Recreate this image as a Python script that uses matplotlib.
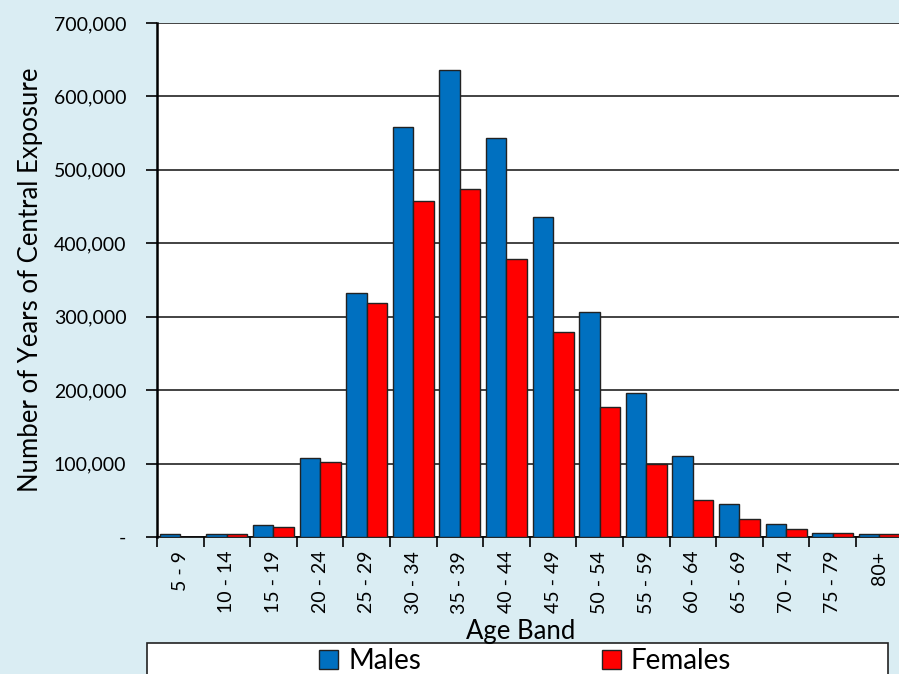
import matplotlib.pyplot as plt
from matplotlib.patches import Rectangle
from matplotlib.ticker import FuncFormatter
import numpy as np

plt.rcParams['font.family'] = ['Lato', 'DejaVu Sans']

# Data
age_bands = ['5 - 9', '10 - 14', '15 - 19', '20 - 24', '25 - 29', '30 - 34',
             '35 - 39', '40 - 44', '45 - 49', '50 - 54', '55 - 59', '60 - 64',
             '65 - 69', '70 - 74', '75 - 79', '80+']
males = [4500, 3500, 16000, 108000, 332000, 558000, 636000, 543000,
         436000, 307000, 196000, 110000, 45500, 17700, 6000, 4000]
females = [500, 3500, 14000, 102000, 319000, 458000, 474000, 379000,
           279000, 177000, 99000, 51000, 24500, 11400, 6000, 4000]

bg = '#DAEDF3'
blue = '#0070C0'
red = '#FF0000'

fig = plt.figure(figsize=(8.99, 6.74), dpi=100, facecolor=bg)
ax = fig.add_axes([157 / 899, 1 - 537 / 674, 1 - 157 / 899 + 0.004, (537 - 23) / 674])
ax.set_facecolor('white')

x = np.arange(len(age_bands))
w = 0.44
ax.bar(x - w / 2, males, width=w, color=blue, edgecolor='#222222', linewidth=1.0,
       label='Males', zorder=3)
ax.bar(x + w / 2, females, width=w, color=red, edgecolor='#222222', linewidth=1.0,
       label='Females', zorder=3)

ax.set_xlim(-0.5, len(age_bands) - 0.5)
ax.set_ylim(0, 700000)
ax.set_yticks(np.arange(0, 700001, 100000))
ax.yaxis.set_major_formatter(FuncFormatter(lambda v, p: '-' if v == 0 else f'{int(v):,}'))
ax.yaxis.grid(True, color='#222222', linewidth=1.2)
ax.set_axisbelow(True)

# category labels at centres, tick marks at the boundaries
ax.set_xticks(x)
ax.set_xticklabels(age_bands, rotation=90, fontsize=14)
ax.set_xticks(np.arange(-0.5, len(age_bands)), minor=True)
ax.tick_params(axis='x', which='major', length=0, pad=10)
ax.tick_params(axis='x', which='minor', length=7, width=1.2, direction='out')
ax.tick_params(axis='y', length=8, width=1.2, direction='out', labelsize=14, pad=14)

for s in ['top', 'right']:
    ax.spines[s].set_visible(False)
ax.spines['left'].set_linewidth(1.8)
ax.spines['bottom'].set_linewidth(1.2)

ax.set_ylabel('Number of Years of Central Exposure', fontsize=18.5, labelpad=8)
fig.text(521 / 899, 1 - 631 / 674, 'Age Band', fontsize=18.5, ha='center', va='center')

# legend box at the bottom
fig.patches.append(Rectangle((147 / 899, -0.02), (888 - 147) / 899, 0.02 + (674 - 643) / 674,
                             transform=fig.transFigure, facecolor='white',
                             edgecolor='#222222', linewidth=1.2, zorder=1))
fig.legend(loc='center', bbox_to_anchor=(525 / 899, 1 - 661 / 674), ncol=2,
           frameon=False, fontsize=20, handlelength=0.7, handleheight=0.7,
           handletextpad=0.35, columnspacing=6.5)

fig.savefig('out.png', dpi=100, facecolor=bg)
